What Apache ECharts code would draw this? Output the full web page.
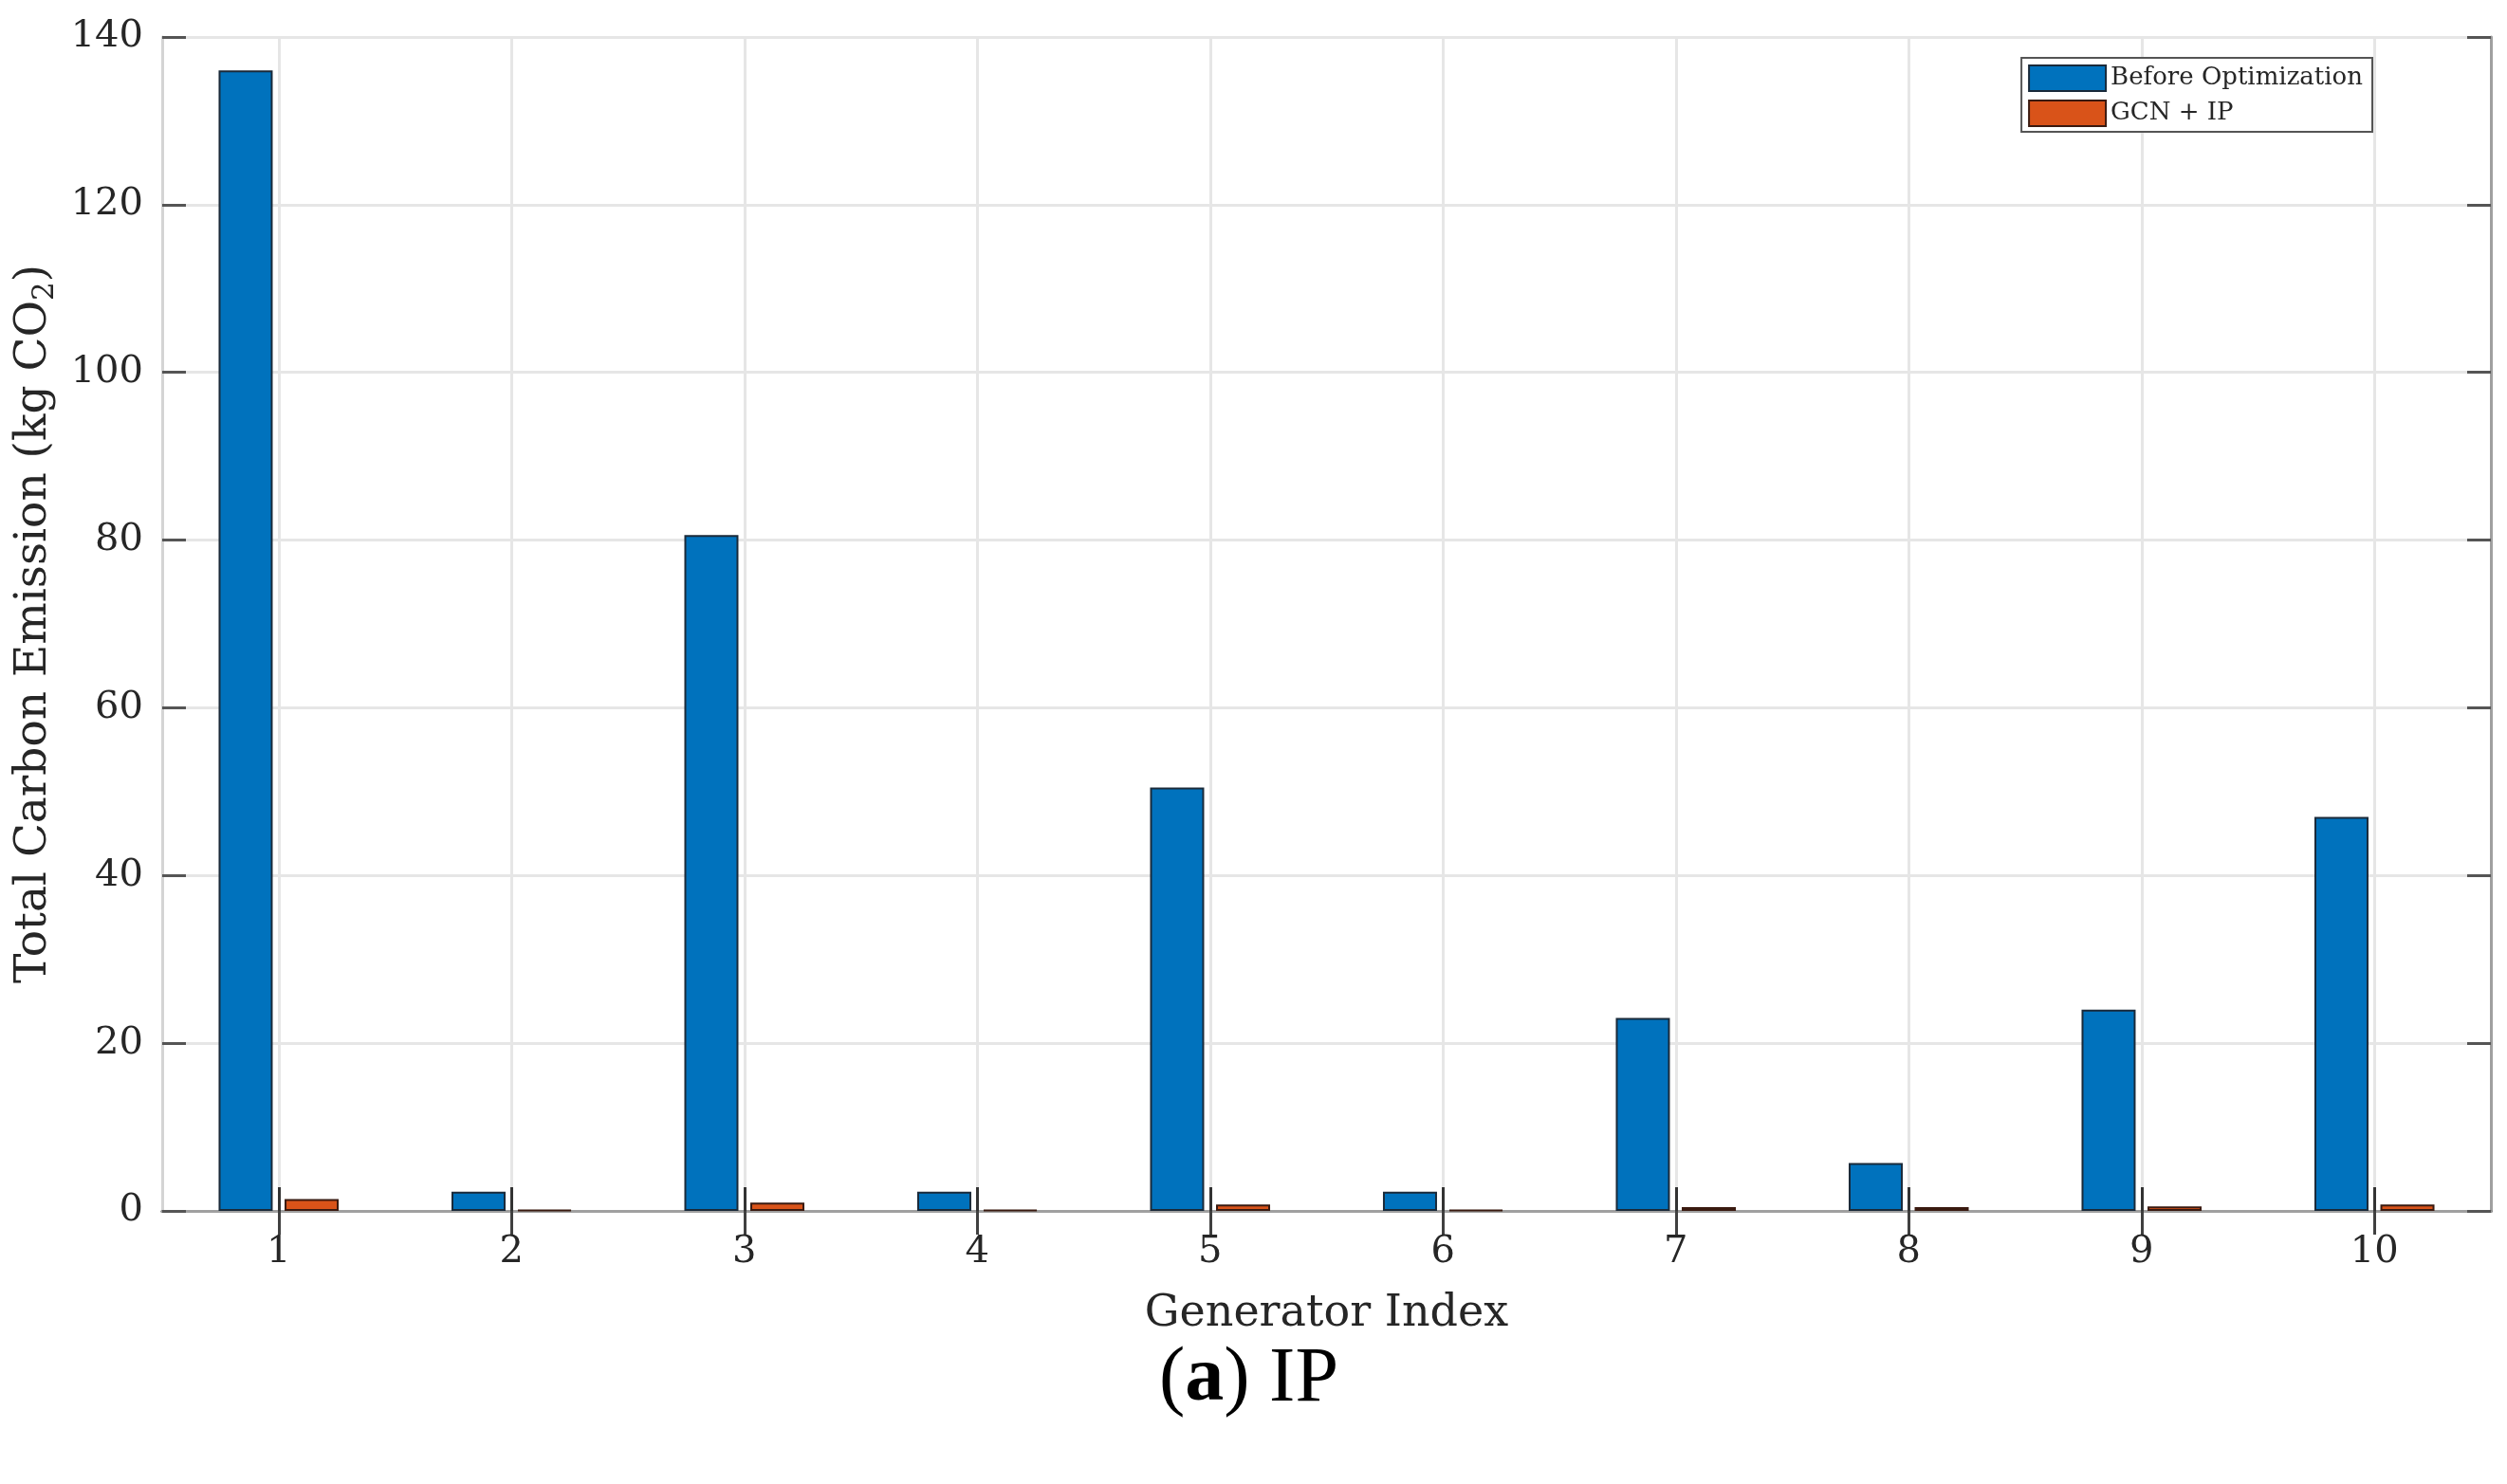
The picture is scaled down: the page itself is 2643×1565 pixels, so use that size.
<!DOCTYPE html>
<html>
<head>
<meta charset="utf-8">
<script src="https://cdn.jsdelivr.net/npm/echarts@6/dist/echarts.min.js"></script>
<style>
html,body{margin:0;padding:0;background:#fff;}
#chart{width:2643px;height:1565px;}
</style>
</head>
<body>
<div id="chart"></div>
<script>
const categories = ['1','2','3','4','5','6','7','8','9','10'];
const beforeOpt = [136.0, 2.3, 80.6, 2.3, 50.5, 2.3, 23.0, 5.7, 24.0, 47.0];
const gcnIp = [1.4, 0.1, 1.0, 0.1, 0.75, 0.1, 0.45, 0.45, 0.55, 0.75];
const yTicks = {min: 0, max: 140, interval: 20};
const seriesNames = ['Before Optimization', 'GCN + IP'];

const serif = 'DejaVu Serif';
const times = 'Liberation Serif';
const chart = echarts.init(document.getElementById('chart'));
chart.setOption({
  backgroundColor: '#ffffff',
  animation: false,
  grid: {left: 171, right: 17, top: 39, bottom: 288, containLabel: false},
  legend: {
    orient: 'vertical', right: 142, top: 61, icon: 'rect',
    itemWidth: 81, itemHeight: 27, itemGap: 8,
    padding: [7, 10, 5, 7],
    borderColor: '#555555', borderWidth: 2, borderRadius: 0,
    backgroundColor: '#ffffff',
    textStyle: {fontFamily: serif, fontSize: 26, color: '#262626', padding: [0,0,0,0]},
    data: seriesNames
  },
  xAxis: [{
    type: 'category', data: categories, position: 'bottom',
    boundaryGap: true,
    axisLine: {show: true, lineStyle: {color: '#333333', width: 3}},
    axisTick: {show: true, inside: true, alignWithLabel: true, length: 25, lineStyle: {color: '#333333', width: 3}},
    axisLabel: {fontFamily: serif, fontSize: 40, color: '#262626', margin: 24},
    splitLine: {show: true, alignWithLabel: true, interval: 0, lineStyle: {color: '#e6e6e6', width: 3}},
    name: 'Generator Index', nameLocation: 'middle', nameGap: 86,
    nameTextStyle: {fontFamily: serif, fontSize: 46, color: '#262626'}
  }, {
    type: 'category', data: categories, position: 'top',
    boundaryGap: true,
    axisLine: {show: true, lineStyle: {color: '#a0a0a0', width: 3}},
    axisTick: {show: true, inside: true, alignWithLabel: true, length: 25, lineStyle: {color: '#404040', width: 3}},
    axisLabel: {show: false},
    splitLine: {show: false}
  }],
  yAxis: [{
    type: 'value', min: yTicks.min, max: yTicks.max, interval: yTicks.interval,
    position: 'left',
    axisLine: {show: true, lineStyle: {color: '#d4d4d4', width: 3}},
    axisTick: {show: true, inside: true, length: 25, lineStyle: {color: '#555555', width: 3}},
    axisLabel: {fontFamily: serif, fontSize: 40, color: '#262626', margin: 20},
    splitLine: {show: true, lineStyle: {color: '#e6e6e6', width: 3}},
    name: 'Total Carbon Emission (kg CO{sub|2})',
    nameLocation: 'middle', nameGap: 100, nameRotate: 90,
    nameTextStyle: {fontFamily: serif, fontSize: 47, color: '#262626',
      rich: {sub: {fontFamily: serif, fontSize: 31, color: '#262626', verticalAlign: 'bottom', padding: [24,0,0,0]}}}
  }, {
    type: 'value', min: yTicks.min, max: yTicks.max, interval: yTicks.interval,
    position: 'right',
    axisLine: {show: true, lineStyle: {color: '#a0a0a0', width: 3}},
    axisTick: {show: true, inside: true, length: 25, lineStyle: {color: '#555555', width: 3}},
    axisLabel: {show: false},
    splitLine: {show: false}
  }],
  series: [{
    name: seriesNames[0], type: 'bar', xAxisIndex: 0, yAxisIndex: 0,
    data: beforeOpt, barWidth: 57, barGap: '22%',
    itemStyle: {color: '#0072BD', borderColor: '#1a2a3a', borderWidth: 2}
  }, {
    name: seriesNames[1], type: 'bar', xAxisIndex: 0, yAxisIndex: 0,
    data: gcnIp, barWidth: 57, barGap: '22%',
    itemStyle: {color: '#D95319', borderColor: '#3a1a10', borderWidth: 2}
  }],
  graphic: [{
    type: 'text', left: 1222, top: 1414,
    style: {
      text: '({b|a}) IP',
      fontFamily: times, fontSize: 82, fill: '#000000',
      rich: {b: {fontFamily: times, fontSize: 82, fontWeight: 'bold', fill: '#000000'}}
    }
  }]
});
</script>
</body>
</html>
